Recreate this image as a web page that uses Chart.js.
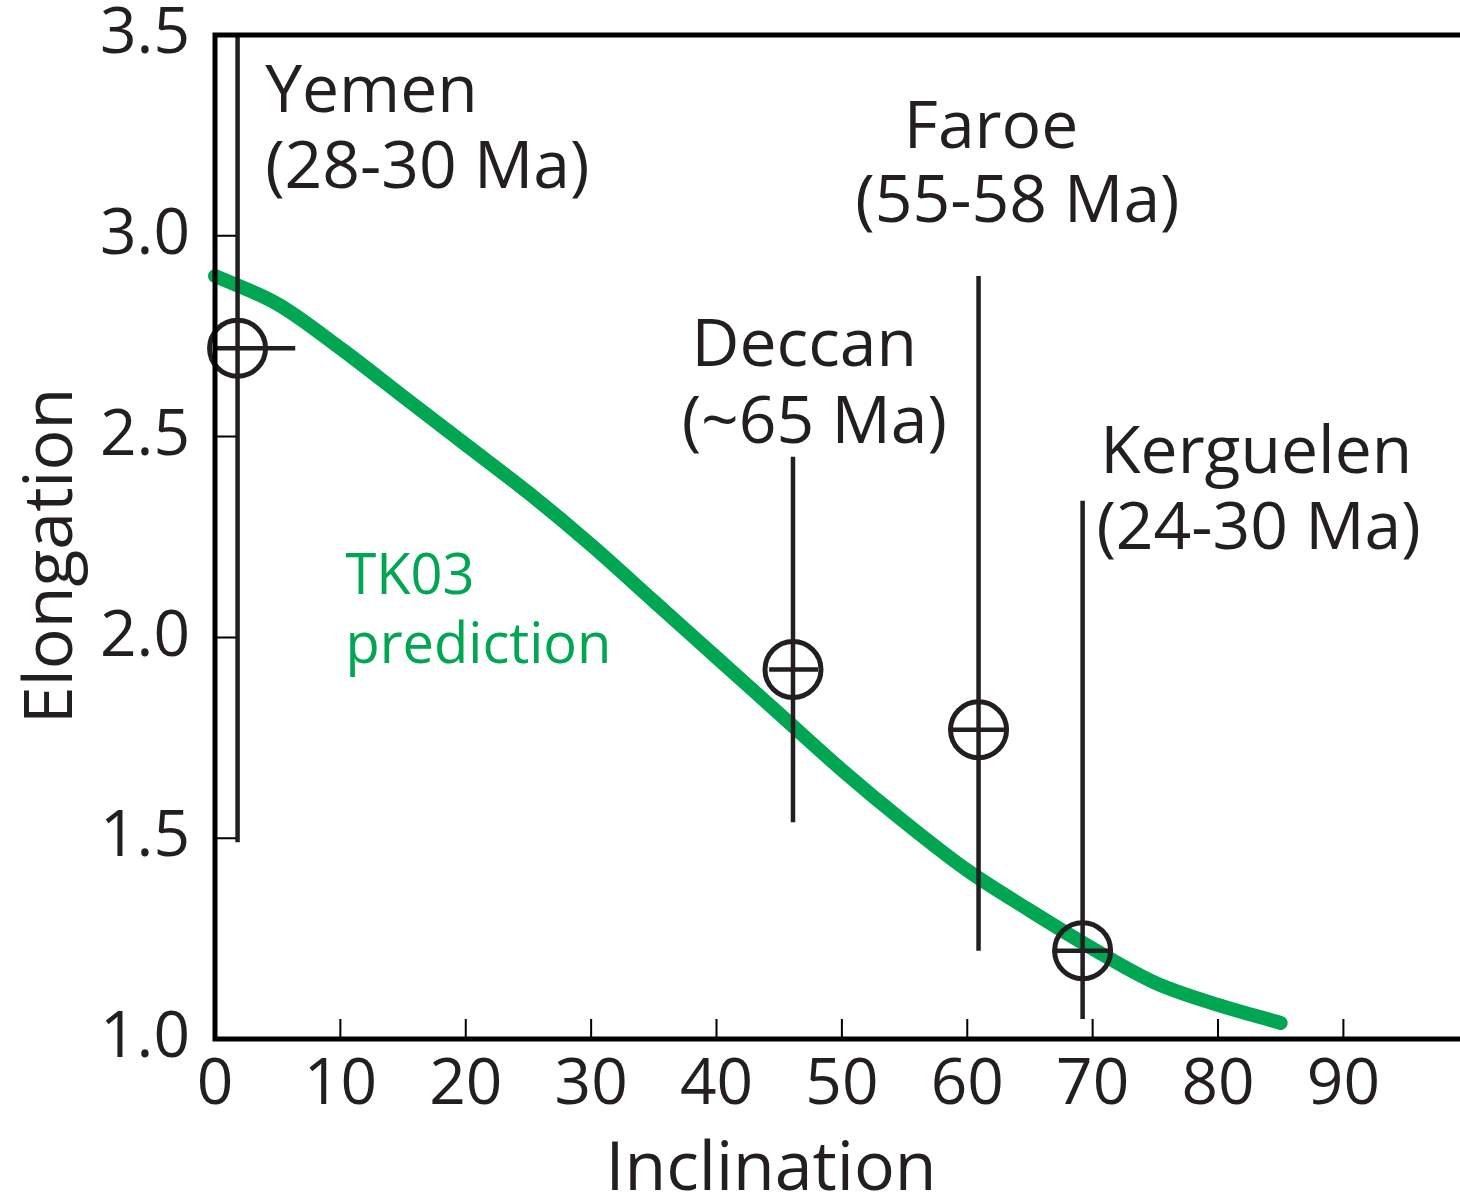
<!DOCTYPE html>
<html>
<head>
<meta charset="utf-8">
<script src="https://cdn.jsdelivr.net/npm/chart.js@4.4.0/dist/chart.umd.min.js"></script>
<style>
html, body { margin: 0; padding: 0; background: #fff; }
</style>
</head>
<body>
<canvas id="myChart" width="1460" height="1199"></canvas>
<script>
// TK03 prediction curve (inclination -> elongation)
const curveInc = [0, 5, 10, 15, 20, 25, 30, 35, 40, 45, 50, 55, 60, 65, 70, 75, 80, 85]
const curveElong = [2.90, 2.83, 2.72, 2.60, 2.48, 2.36, 2.23, 2.09, 1.95, 1.81, 1.67, 1.54, 1.42, 1.32, 1.225, 1.14, 1.085, 1.04]

// sites with error bars
const sites = ["Yemen", "Deccan", "Faroe", "Kerguelen"]
const siteInc = [1.8, 46.1, 60.9, 69.2]
const siteElong = [2.72, 1.92, 1.77, 1.22]
const incLow = [-2.7, 44.2, 58.5, 66.8]
const incHigh = [6.4, 48.1, 63.2, 71.5]
const elongLow = [1.49, 1.54, 1.22, 1.05]
const elongHigh = [3.6, 2.45, 2.90, 2.34]

const xTicks = [0, 10, 20, 30, 40, 50, 60, 70, 80, 90]
const yTicks = [1.0, 1.5, 2.0, 2.5, 3.0, 3.5]

const INK = "#231f20"
const GREEN = "#00a651"
const FONT = "'Open Sans', 'DejaVu Sans', sans-serif"

// text labels placed in data coordinates (left/center x, baseline y)
const notes = [
    { text: "Yemen", x: 4.0, y: 3.308, align: "left" },
    { text: "(28-30 Ma)", x: 4.0, y: 3.118, align: "left" },
    { text: "Faroe", x: 61.9, y: 3.218, align: "center" },
    { text: "(55-58 Ma)", x: 64.0, y: 3.034, align: "center" },
    { text: "Deccan", x: 47.0, y: 2.675, align: "center" },
    { text: "(~65 Ma)", x: 47.8, y: 2.485, align: "center" },
    { text: "Kerguelen", x: 70.6, y: 2.410, align: "left" },
    { text: "(24-30 Ma)", x: 70.3, y: 2.221, align: "left" },
    { text: "TK03", x: 10.4, y: 2.108, align: "left", color: GREEN, size: 56 },
    { text: "prediction", x: 10.4, y: 1.936, align: "left", color: GREEN, size: 56 }
]

// no extra room for tick labels, the frame is placed by layout padding
function noPad(scale) {
    scale.paddingTop = 0
    scale.paddingBottom = 0
    scale.paddingLeft = 0
    scale.paddingRight = 0
}

const cadre = {
    id: "cadre",
    afterDatasetsDraw(chart) {
        const ctx = chart.ctx
        const a = chart.chartArea
        const xs = chart.scales.x
        const ys = chart.scales.y
        // error bars
        ctx.save()
        ctx.beginPath()
        ctx.rect(a.left, a.top, a.right - a.left, a.bottom - a.top)
        ctx.clip()
        ctx.strokeStyle = INK
        ctx.lineWidth = 4.5
        for (let i = 0; i < sites.length; i++) {
            const px = xs.getPixelForValue(siteInc[i])
            const py = ys.getPixelForValue(siteElong[i])
            ctx.beginPath()
            ctx.moveTo(px, ys.getPixelForValue(elongLow[i]))
            ctx.lineTo(px, ys.getPixelForValue(elongHigh[i]))
            ctx.moveTo(xs.getPixelForValue(incLow[i]), py)
            ctx.lineTo(xs.getPixelForValue(incHigh[i]), py)
            ctx.stroke()
        }
        ctx.restore()
    },
    afterDraw(chart) {
        const ctx = chart.ctx
        const a = chart.chartArea
        const xs = chart.scales.x
        const ys = chart.scales.y
        ctx.save()
        // frame: left, top, bottom (the right side runs off the picture)
        ctx.strokeStyle = "#000"
        ctx.lineWidth = 5
        ctx.lineCap = "square"
        ctx.beginPath()
        ctx.moveTo(chart.width + 5, a.top)
        ctx.lineTo(a.left, a.top)
        ctx.lineTo(a.left, a.bottom)
        ctx.lineTo(chart.width + 5, a.bottom)
        ctx.stroke()
        // inward ticks
        ctx.lineWidth = 2
        ctx.lineCap = "butt"
        ctx.beginPath()
        xTicks.forEach(v => {
            if (v === 0) return
            const px = xs.getPixelForValue(v)
            ctx.moveTo(px, a.bottom)
            ctx.lineTo(px, a.bottom - 20)
        })
        yTicks.forEach(v => {
            if (v === 1.0 || v === 3.5) return
            const py = ys.getPixelForValue(v)
            ctx.moveTo(a.left, py)
            ctx.lineTo(a.left + 21, py)
        })
        ctx.stroke()

        // annotations
        notes.forEach(n => {
            ctx.fillStyle = n.color || INK
            ctx.font = (n.size || 66) + "px " + FONT
            ctx.textAlign = n.align
            ctx.textBaseline = "alphabetic"
            ctx.fillText(n.text, xs.getPixelForValue(n.x), ys.getPixelForValue(n.y))
        })

        // axis titles
        ctx.fillStyle = INK
        ctx.font = "68px " + FONT
        ctx.textAlign = "center"
        ctx.fillText("Inclination", 771, 1190)
        ctx.translate(72, 556)
        ctx.rotate(-Math.PI / 2)
        ctx.fillText("Elongation", 0, 0)
        ctx.restore()
    }
}

const config = {
    type: "scatter",
    data: {
        datasets: [
            {
                label: "TK03 prediction",
                type: "line",
                data: curveInc.map((x, i) => ({ x: x, y: curveElong[i] })),
                borderColor: GREEN,
                borderWidth: 14,
                borderCapStyle: "round",
                borderJoinStyle: "round",
                cubicInterpolationMode: "monotone",
                pointRadius: 0,
                fill: false,
                clip: false,
                order: 2
            },
            {
                label: "sites",
                data: siteInc.map((x, i) => ({ x: x, y: siteElong[i] })),
                pointStyle: "circle",
                pointRadius: 28,
                borderWidth: 5,
                borderColor: INK,
                backgroundColor: "rgba(0,0,0,0)",
                clip: false,
                order: 1
            }
        ]
    },
    options: {
        responsive: false,
        animation: false,
        devicePixelRatio: 1,
        layout: { autoPadding: false, padding: { top: 35, right: 0, left: 0, bottom: 0 } },
        plugins: { legend: { display: false }, tooltip: { enabled: false } },
        scales: {
            x: {
                type: "linear",
                min: 0,
                max: 99.3,
                grid: { display: false, drawTicks: false, tickLength: 0 },
                border: { display: false },
                afterBuildTicks: scale => { scale.ticks = xTicks.map(v => ({ value: v })) },
                afterFit: scale => { scale.height = 160; noPad(scale) },
                ticks: {
                    color: INK,
                    padding: 8,
                    maxRotation: 0,
                    autoSkip: false,
                    font: { family: FONT, size: 64 },
                    callback: v => v.toString()
                }
            },
            y: {
                type: "linear",
                min: 1.0,
                max: 3.5,
                grid: { display: false, drawTicks: false, tickLength: 0 },
                border: { display: false },
                afterBuildTicks: scale => { scale.ticks = yTicks.map(v => ({ value: v })) },
                afterFit: scale => { scale.width = 215; noPad(scale) },
                ticks: {
                    color: INK,
                    padding: 25,
                    autoSkip: false,
                    font: { family: FONT, size: 64 },
                    callback: v => Number(v).toFixed(1)
                }
            }
        }
    },
    plugins: [cadre]
}

new Chart(document.querySelector("#myChart"), config)
</script>
</body>
</html>
